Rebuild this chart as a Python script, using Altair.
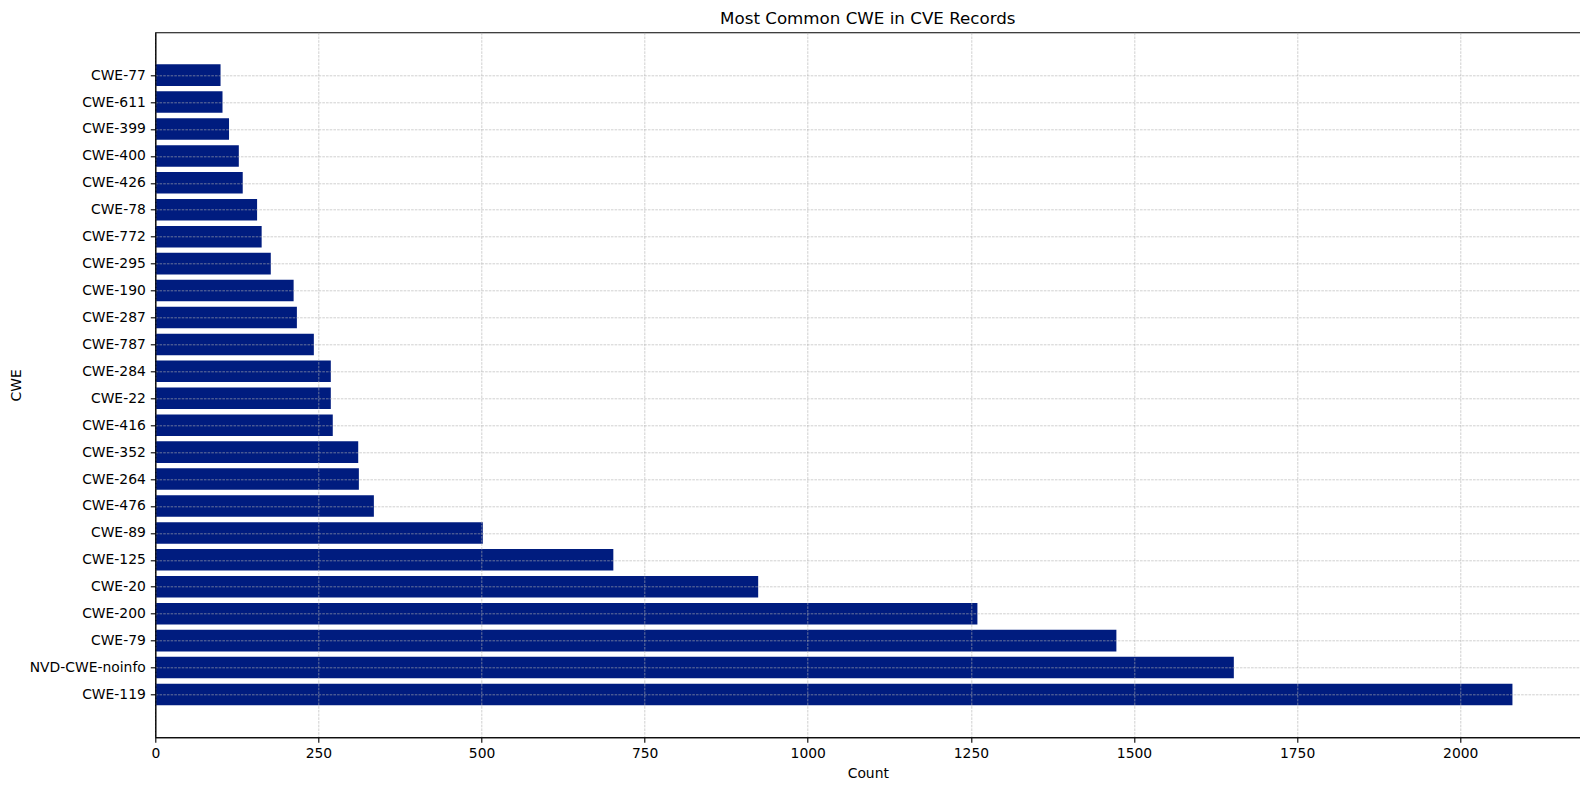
import altair as alt
import pandas as pd

title_text = "Most Common CWE in CVE Records"
categories = ["CWE-77", "CWE-611", "CWE-399", "CWE-400", "CWE-426", "CWE-78",
              "CWE-772", "CWE-295", "CWE-190", "CWE-287", "CWE-787", "CWE-284",
              "CWE-22", "CWE-416", "CWE-352", "CWE-264", "CWE-476", "CWE-89",
              "CWE-125", "CWE-20", "CWE-200", "CWE-79", "NVD-CWE-noinfo", "CWE-119"]
counts = [100, 103, 113, 128, 134, 156, 163, 177, 212, 217, 243, 269,
          269, 272, 311, 312, 335, 502, 702, 924, 1260, 1473, 1653, 2080]
x_ticks = [0, 250, 500, 750, 1000, 1250, 1500, 1750, 2000]

n = len(categories)
df = pd.DataFrame({"CWE": categories, "Count": counts,
                   "pos": list(range(n - 1, -1, -1))})

# label lookup: position -> category name
bottom_up = list(reversed(categories))
label_expr = "[" + ",".join("'" + c + "'" for c in bottom_up) + "][datum.value]"

FONT = "DejaVu Sans"
W, H = 1425, 705
MARGIN = 0.05 * (n - 1 + 0.8)
y_dom = [-0.4 - MARGIN, n - 1 + 0.4 + MARGIN]

bars = alt.Chart(df).transform_calculate(
    lo="datum.pos - 0.4", hi="datum.pos + 0.4"
).mark_bar(color="#001c7f").encode(
    x=alt.X("Count:Q",
            scale=alt.Scale(domain=[0, 2184], nice=False, zero=True),
            axis=alt.Axis(values=x_ticks, title="Count", grid=True, format="d",
                          gridDash=[2.6, 1.1], gridColor="#b0b0b0", gridWidth=0.6,
                          domainColor="black", domainWidth=1.1,
                          tickColor="black", tickWidth=1.1, tickSize=5,
                          labelPadding=4, labelFont=FONT, labelFontSize=13.9,
                          labelColor="black", labelFlush=False,
                          titleFont=FONT, titleFontSize=13.9, titleFontWeight="normal",
                          titleColor="black", titleBaseline="alphabetic",
                          titleY=40, titleX=W / 2, titleAlign="center",
                          zindex=1)),
    x2=alt.datum(0),
    y=alt.Y("lo:Q",
            scale=alt.Scale(domain=y_dom, nice=False, zero=False),
            axis=alt.Axis(title="CWE", grid=True, values=list(range(n)),
                          labelExpr=label_expr,
                          gridDash=[2.6, 1.1], gridColor="#b0b0b0", gridWidth=0.6,
                          domainColor="black", domainWidth=1.1,
                          tickColor="black", tickWidth=1.1, tickSize=5,
                          labelPadding=5, labelFont=FONT, labelFontSize=13.9,
                          labelColor="black", labelBaseline="middle", labelFlush=False,
                          labelOverlap=False,
                          titleFont=FONT, titleFontSize=13.9, titleFontWeight="normal",
                          titleColor="black", titleAngle=270, titleBaseline="alphabetic",
                          titleAlign="center", titleX=-135.3, titleY=H / 2,
                          zindex=1)),
    y2="hi:Q",
)

title = alt.Chart(pd.DataFrame({"t": [title_text]})).mark_text(
    font=FONT, fontSize=16.7, color="black", align="center", baseline="alphabetic"
).encode(
    text="t:N",
    x=alt.value(W / 2),
    y=alt.value(-8.3),
)

chart = alt.layer(bars, title).properties(
    width=W,
    height=H,
    autosize=alt.AutoSizeParams(type="none"),
    padding={"left": 147.3, "top": 24.3, "right": 0, "bottom": 45},
).configure_view(stroke="black", strokeWidth=1.1)

chart.save("out.html", embed_options={"renderer": "svg", "actions": False})
